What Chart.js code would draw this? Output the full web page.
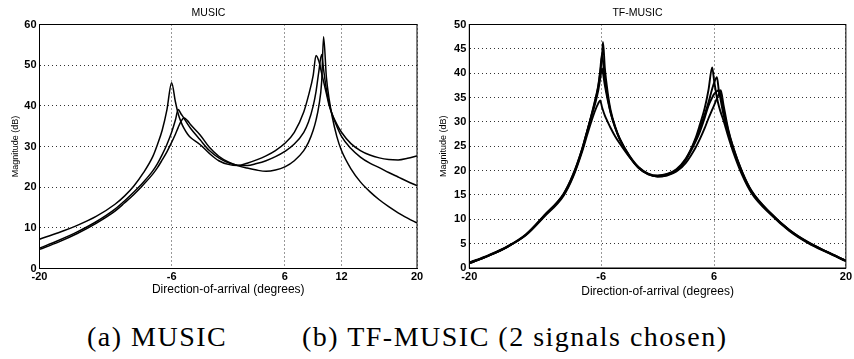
<!DOCTYPE html>
<html>
<head>
<meta charset="utf-8">
<script src="https://cdn.jsdelivr.net/npm/chart.js@4"></script>
<style>
  html, body { margin: 0; padding: 0; background: #fff; }
  body { width: 854px; height: 359px; position: relative; overflow: hidden; }
  canvas { position: absolute; top: 0; }
  #chart-music { left: 0; }
  #chart-tf { left: 427px; }
  .caption {
    position: absolute; top: 323px; line-height: 1;
    font-family: 'Liberation Serif', 'Times New Roman', serif;
    font-size: 28px; letter-spacing: 1.5px; color: #000; white-space: nowrap;
  }
</style>
</head>
<body>
<canvas id="chart-music" width="427" height="300"></canvas>
<canvas id="chart-tf" width="427" height="300"></canvas>
<div class="caption" style="left:87px">(a) MUSIC</div>
<div class="caption" style="left:302px">(b) TF-MUSIC (2 signals chosen)</div>
<script>
// (a) MUSIC: direction-of-arrival grid and three spectra
const X_MUSIC = [-20, -18, -16, -14, -12, -11, -10, -9, -8, -7.5, -7, -6.5, -6, -5.6, -5.3, -5, -4.7, -4.3, -4, -3, -2, -1, 0, 1, 2, 3, 4, 5, 6, 7, 8, 8.5, 9, 9.3, 9.6, 9.9, 10.1, 10.4, 10.7, 11, 11.5, 12, 13, 14, 15, 16, 17, 18, 19, 20];
const MUSIC_A = [7.2, 8.8, 10.6, 12.8, 15.8, 17.8, 20.3, 23.5, 27.5, 30.5, 34, 39, 45.7, 41, 38, 36, 34.5, 33, 32.2, 30.5, 28.3, 26.5, 25.6, 25.3, 25.9, 26.7, 27.7, 29, 30.8, 33.5, 38.5, 42.5, 47.5, 52.4, 51, 48, 46, 43, 40, 38, 35.5, 33.5, 30.7, 29, 27.9, 27.2, 26.8, 26.7, 27.1, 27.7];
const MUSIC_B = [5.0, 6.9, 9.0, 11.5, 14.6, 16.6, 18.8, 21.2, 24, 25.8, 28, 30.5, 33.5, 36.5, 39.1, 38, 37, 35.5, 34.5, 31.7, 29, 27.2, 26, 25.4, 25.3, 25.8, 26.5, 27.5, 28.8, 30.6, 33.5, 36, 40, 43.5, 48.5, 52.6, 49, 44, 40.5, 38, 35, 32.5, 29.5, 27.4, 25.9, 24.8, 23.6, 22.5, 21.4, 20.4];
const MUSIC_C = [4.7, 6.5, 8.6, 11.1, 14.1, 16.1, 18.2, 20.6, 23.2, 24.8, 26.7, 28.7, 31, 33, 34.7, 36.2, 37, 36.3, 35.4, 32.9, 29.8, 27.6, 26.2, 25.3, 24.7, 24.2, 23.9, 24.2, 25, 26.5, 29, 31, 34, 36.5, 40, 46, 57, 47, 41.5, 37.5, 32.5, 29, 24.5, 21.3, 18.9, 16.9, 15.2, 13.7, 12.4, 11.2];
const MUSIC_XTICKS = [-20, -6, 6, 12, 20];

// (b) TF-MUSIC: four spectra
const X_TF = [-20, -18, -16, -14, -12, -10, -9, -8, -7.5, -7, -6.6, -6.3, -6.1, -5.9, -5.8, -5.6, -5.3, -5, -4.5, -4, -3, -2, -1, 0, 1, 2, 3, 4, 4.5, 5, 5.4, 5.8, 6, 6.3, 6.5, 6.7, 7, 7.5, 8, 9, 10, 12, 14, 16, 18, 20];
const TF_1 = [1.0, 2.5, 4.3, 6.8, 10.8, 15, 18.8, 24.3, 27.8, 31.5, 34.5, 37.3, 40, 43.5, 46.4, 41, 36, 32.5, 29, 26.5, 23, 20.5, 19.3, 18.9, 19.2, 20.1, 22.3, 26.5, 29.5, 32.8, 36.5, 41.2, 38.5, 35, 33.3, 32, 30.3, 27, 24, 19, 15.3, 11, 7.6, 5.1, 3.2, 1.4];
const TF_2 = [1.1, 2.6, 4.4, 6.9, 10.9, 15.2, 19.1, 24.6, 28, 31.3, 34, 36.5, 38.8, 41, 40, 37.5, 34.5, 32, 28.8, 26.4, 23.1, 20.7, 19.4, 19, 19.3, 20.3, 22.5, 26.2, 28.7, 31.5, 34, 36.8, 38, 39.2, 36.5, 34.5, 31.5, 27.8, 24.6, 19.4, 15.6, 11.2, 7.7, 5.2, 3.3, 1.5];
const TF_3 = [1.0, 2.5, 4.3, 6.7, 10.6, 14.8, 18.6, 24, 27.2, 30.3, 32.5, 33.8, 34.4, 33, 32.4, 31.3, 30, 28.8, 27, 25.5, 22.8, 20.6, 19.3, 18.8, 19, 19.8, 21.6, 24.6, 26.5, 28.7, 30.7, 32.5, 33.4, 34.8, 35.7, 36.5, 33.5, 28.5, 25, 19.7, 15.8, 11.3, 7.8, 5.3, 3.3, 1.5];
const TF_4 = [1.0, 2.5, 4.3, 6.8, 10.8, 15.1, 19, 24.5, 28, 31.6, 34.8, 37.5, 40.5, 44, 42.5, 38.5, 35, 32, 28.8, 26.3, 22.9, 20.5, 19.2, 18.8, 19.1, 20, 22.2, 25.8, 28, 30.8, 33.3, 35, 35.7, 36.3, 36.5, 35.3, 32.5, 28.2, 24.9, 19.6, 15.7, 11.2, 7.8, 5.2, 3.3, 1.5];
const TF_XTICKS = [-20, -6, 6, 20];

const FONT = "'Liberation Sans', Arial, Helvetica, sans-serif";
Chart.defaults.font.family = FONT;
Chart.defaults.color = '#000';

// matlab style full box round the plot area
const boxPlugin = {
  id: 'box',
  afterDraw(chart) {
    const { ctx, chartArea: a } = chart;
    ctx.save();
    ctx.strokeStyle = '#000';
    ctx.lineWidth = 1;
    ctx.strokeRect(a.left, a.top, a.right - a.left, a.bottom - a.top);
    ctx.restore();
  }
};

function toPoints(xs, ys) {
  return xs.map((x, i) => ({ x, y: ys[i] }));
}

function makeSpectrum(canvas, opts) {
  new Chart(canvas, {
    type: 'line',
    data: {
      datasets: opts.series.map(ys => ({
        data: toPoints(opts.xs, ys),
        borderColor: '#000',
        borderWidth: opts.lineWidth,
        pointRadius: 0,
        fill: false,
        cubicInterpolationMode: 'monotone'
      }))
    },
    options: {
      responsive: false,
      animation: false,
      layout: { padding: { left: 0, right: opts.padRight, top: 0, bottom: 0 } },
      plugins: {
        legend: { display: false },
        tooltip: { enabled: false },
        title: {
          display: true,
          text: opts.title,
          font: { size: 10.5, weight: 'normal', lineHeight: 1 },
          padding: { top: 8, bottom: 6 }
        }
      },
      scales: {
        x: {
          type: 'linear',
          min: -20,
          max: 20,
          afterBuildTicks: scale => { scale.ticks = opts.xticks.map(v => ({ value: v })); },
          afterFit: scale => { scale.height = opts.xHeight; },
          ticks: { font: { size: 11, weight: 'bold' }, padding: 2, maxRotation: 0, autoSkip: false },
          grid: { color: 'rgba(0,0,0,0.8)', lineWidth: 1, drawTicks: false },
          border: { display: true, color: '#000', width: 1, dash: [1, 3] },
          title: {
            display: true,
            text: 'Direction-of-arrival (degrees)',
            font: { size: 12, lineHeight: 1.2 },
            padding: { top: 0, bottom: opts.xTitlePad }
          }
        },
        y: {
          min: 0,
          max: opts.ymax,
          afterFit: scale => { scale.width = opts.yWidth; },
          ticks: { stepSize: opts.ystep, font: { size: 11, weight: 'bold' }, padding: 3 },
          grid: { color: 'rgba(0,0,0,0.8)', lineWidth: 1, drawTicks: false },
          border: { display: true, color: '#000', width: 1, dash: [1, 3] },
          title: {
            display: true,
            text: 'Magnitude (dB)',
            font: { size: 9, lineHeight: 1.2 },
            padding: { top: opts.yTitlePad, bottom: 0 }
          }
        }
      }
    },
    plugins: [boxPlugin]
  });
}

makeSpectrum(document.getElementById('chart-music'), {
  title: 'MUSIC',
  xs: X_MUSIC,
  series: [MUSIC_A, MUSIC_B, MUSIC_C],
  xticks: MUSIC_XTICKS,
  ymax: 60, ystep: 10,
  lineWidth: 1.5,
  padRight: 10, yWidth: 39.5, xHeight: 31.5,
  xTitlePad: 3, yTitlePad: 10.5
});

makeSpectrum(document.getElementById('chart-tf'), {
  title: 'TF-MUSIC',
  xs: X_TF,
  series: [TF_1, TF_2, TF_3, TF_4],
  xticks: TF_XTICKS,
  ymax: 50, ystep: 5,
  lineWidth: 1.9,
  padRight: 6, yWidth: 42.3, xHeight: 32,
  xTitlePad: 1, yTitlePad: 11
});
</script>
</body>
</html>
